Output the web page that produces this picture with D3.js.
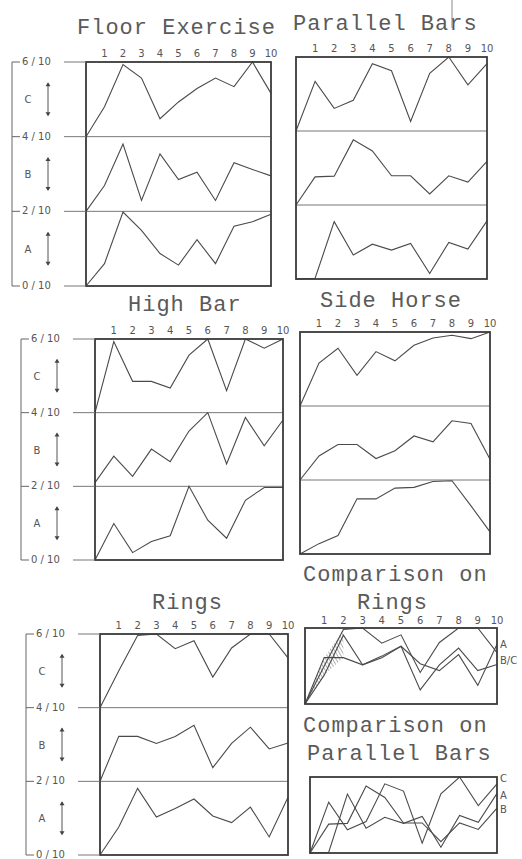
<!DOCTYPE html>
<html>
<head>
<meta charset="utf-8">
<script src="https://cdn.jsdelivr.net/npm/d3@7"></script>
<style>
  body { margin: 0; background: #fff; }
  svg { display: block; }
  .title { font-family: "Liberation Mono", "DejaVu Sans Mono", monospace; font-size: 22px; letter-spacing: 1px; fill: #5a5a5a; }
  .tick { font-family: "DejaVu Sans", sans-serif; font-size: 10px; fill: #555; }
  .small { font-family: "DejaVu Sans", sans-serif; font-size: 10px; fill: #555; }
</style>
</head>
<body>
<svg id="chart" width="522" height="859"></svg>
<script>
// rounds 1..10, point 0 is the starting point on the left edge
var rounds = [1, 2, 3, 4, 5, 6, 7, 8, 9, 10];
var scaleLabels = ["6 / 10", "4 / 10", "2 / 10", "0 / 10"];
var bandNames = ["C", "B", "A"];

// values in tenths inside each band (0..2)
var floorC = [0, 0.8, 1.93, 1.57, 0.48, 0.93, 1.29, 1.57, 1.34, 2.0, 1.16];
var floorB = [0, 0.69, 1.8, 0.29, 1.54, 0.85, 1.05, 0.29, 1.3, 1.12, 0.95];
var floorA = [0, 0.6, 1.98, 1.49, 0.87, 0.56, 1.24, 0.6, 1.6, 1.72, 1.92];

var parC = [0, 1.34, 0.61, 0.83, 1.82, 1.63, 0.26, 1.56, 2.0, 1.25, 1.82];
var parB = [0, 0.76, 0.78, 1.76, 1.46, 0.79, 0.79, 0.3, 0.79, 0.62, 1.18];
var parA = [0, 0.02, 1.55, 0.65, 0.94, 0.78, 0.96, 0.15, 0.99, 0.81, 1.57];

var highC = [0, 1.93, 0.85, 0.85, 0.67, 1.56, 2.0, 0.6, 2.0, 1.75, 2.0];
var highB = [0.1, 0.82, 0.27, 1.01, 0.67, 1.5, 2.0, 0.61, 1.87, 1.1, 1.8];
var highA = [0, 0.99, 0.2, 0.5, 0.66, 2.0, 1.08, 0.59, 1.62, 1.97, 1.97];

var horseC = [0, 1.16, 1.56, 0.83, 1.47, 1.22, 1.64, 1.84, 1.91, 1.82, 2.0];
var horseB = [0, 0.65, 0.96, 0.96, 0.58, 0.79, 1.19, 1.03, 1.6, 1.53, 0.56];
var horseA = [0, 0.28, 0.5, 1.49, 1.49, 1.78, 1.8, 1.96, 1.98, 1.3, 0.6];

var ringsC = [0, 1.0, 1.96, 2.0, 1.6, 1.82, 0.83, 1.62, 2.0, 2.0, 1.35];
var ringsB = [0, 1.22, 1.22, 1.03, 1.22, 1.52, 0.37, 1.03, 1.47, 0.88, 1.04];
var ringsA = [0, 0.76, 1.81, 1.03, 1.26, 1.52, 1.06, 0.88, 1.3, 0.49, 1.57];

var svg = d3.select("#chart");
var ink = "#3a3a3a";

var defs = svg.append("defs");
defs.append("pattern")
  .attr("id", "hatch")
  .attr("width", 3).attr("height", 3)
  .attr("patternUnits", "userSpaceOnUse")
  .attr("patternTransform", "rotate(-30)")
  .append("line")
  .attr("x1", 0).attr("y1", 0).attr("x2", 0).attr("y2", 3)
  .attr("stroke", "#666").attr("stroke-width", 1);

var titles = [
  { text: "Floor Exercise", x: 77, y: 34 },
  { text: "Parallel Bars", x: 293, y: 30 },
  { text: "High Bar", x: 128, y: 311 },
  { text: "Side Horse", x: 320, y: 307 },
  { text: "Rings", x: 152, y: 609 },
  { text: "Comparison on", x: 303, y: 581 },
  { text: "Rings", x: 357, y: 609 },
  { text: "Comparison on", x: 303, y: 732 },
  { text: "Parallel Bars", x: 307, y: 760 }
];

svg.selectAll("text.title")
  .data(titles)
  .enter().append("text")
  .attr("class", "title")
  .attr("x", d => d.x)
  .attr("y", d => d.y)
  .text(d => d.text);

var panels = [
  { series: [floorC, floorB, floorA], left: 86, right: 271, top: 62, bottom: 286, axis: true },
  { series: [parC, parB, parA], left: 296, right: 487, top: 57, bottom: 279, axis: false },
  { series: [highC, highB, highA], left: 95, right: 283, top: 339, bottom: 560, axis: true },
  { series: [horseC, horseB, horseA], left: 300, right: 490, top: 332, bottom: 554, axis: false },
  { series: [ringsC, ringsB, ringsA], left: 100, right: 288, top: 634, bottom: 855, axis: true }
];

panels.forEach(function (p) {
  var g = svg.append("g");
  var x = d3.scaleLinear().domain([0, 10]).range([p.left, p.right]);
  var bandH = (p.bottom - p.top) / 3;

  // round numbers on top
  g.selectAll("text.tick")
    .data(rounds)
    .enter().append("text")
    .attr("class", "tick")
    .attr("x", d => x(d))
    .attr("y", p.top - 5)
    .attr("text-anchor", "middle")
    .text(d => d);

  // band dividers
  [1, 2].forEach(function (k) {
    g.append("line")
      .attr("x1", p.left).attr("x2", p.right)
      .attr("y1", p.top + k * bandH).attr("y2", p.top + k * bandH)
      .attr("stroke", "#777").attr("stroke-width", 1);
  });

  p.series.forEach(function (vals, i) {
    var y = d3.scaleLinear().domain([0, 2])
      .range([p.top + (i + 1) * bandH, p.top + i * bandH]);
    var line = d3.line()
      .x((d, j) => x(j))
      .y(d => y(d));
    g.append("path")
      .datum(vals)
      .attr("d", line)
      .attr("fill", "none")
      .attr("stroke", "#4a4a4a")
      .attr("stroke-width", 1.1);
  });

  g.append("rect")
    .attr("x", p.left).attr("y", p.top)
    .attr("width", p.right - p.left).attr("height", p.bottom - p.top)
    .attr("fill", "none").attr("stroke", ink).attr("stroke-width", 1.8);

  if (p.axis) {
    var bx = p.left - 74;
    g.append("line")
      .attr("x1", bx).attr("x2", bx)
      .attr("y1", p.top).attr("y2", p.bottom)
      .attr("stroke", "#666").attr("stroke-width", 1);
    scaleLabels.forEach(function (lab, k) {
      var yy = p.top + k * bandH;
      g.append("line")
        .attr("x1", bx).attr("x2", bx + 8)
        .attr("y1", yy).attr("y2", yy)
        .attr("stroke", "#666");
      g.append("line")
        .attr("x1", bx + 52).attr("x2", p.left)
        .attr("y1", yy).attr("y2", yy)
        .attr("stroke", "#777");
      g.append("text")
        .attr("class", "small")
        .attr("x", bx + 10).attr("y", yy + 3)
        .attr("font-size", 11)
        .text(lab);
    });
    bandNames.forEach(function (nm, k) {
      var mid = p.top + (k + 0.5) * bandH;
      g.append("text")
        .attr("class", "small")
        .attr("x", p.left - 58).attr("y", mid + 4)
        .attr("text-anchor", "middle")
        .attr("font-size", 11)
        .text(nm);
      var ax = p.left - 38, y1 = mid - 16, y2 = mid + 16;
      g.append("line")
        .attr("x1", ax).attr("x2", ax).attr("y1", y1).attr("y2", y2)
        .attr("stroke", "#555");
      g.append("path")
        .attr("d", "M" + (ax - 2.5) + "," + (y1 + 3) + "L" + ax + "," + (y1 - 1) + "L" + (ax + 2.5) + "," + (y1 + 3) + "Z")
        .attr("fill", "#444");
      g.append("path")
        .attr("d", "M" + (ax - 2.5) + "," + (y2 - 3) + "L" + ax + "," + (y2 + 1) + "L" + (ax + 2.5) + "," + (y2 - 3) + "Z")
        .attr("fill", "#444");
    });
  }
});

// comparison charts: the three bands laid over each other
var comps = [
  { series: [ringsA, ringsB, ringsC], labels: [{ t: "A", v: 1.57 }, { t: "B/C", v: 1.16 }],
    left: 305, right: 497, top: 628, bottom: 704, ticks: true, hatch: true },
  { series: [parC, parA, parB], labels: [{ t: "C", v: 1.97 }, { t: "A", v: 1.52 }, { t: "B", v: 1.17 }],
    left: 310, right: 497, top: 777, bottom: 853, ticks: false, hatch: false }
];

comps.forEach(function (c) {
  var g = svg.append("g");
  var x = d3.scaleLinear().domain([0, 10]).range([c.left, c.right]);
  var y = d3.scaleLinear().domain([0, 2]).range([c.bottom, c.top]);

  if (c.ticks) {
    g.selectAll("text.tick")
      .data(rounds)
      .enter().append("text")
      .attr("class", "tick")
      .attr("x", d => x(d))
      .attr("y", c.top - 4)
      .attr("text-anchor", "middle")
      .text(d => d);
  }

  if (c.hatch) {
    var idx = [0, 1, 2];
    var area = d3.area()
      .x(d => x(d))
      .y0(d => y(d3.min(c.series, s => s[d])))
      .y1(d => y(d3.max(c.series, s => s[d])));
    g.append("path")
      .datum(idx)
      .attr("d", area)
      .attr("fill", "url(#hatch)");
  }

  var line = d3.line().x((d, j) => x(j)).y(d => y(d));
  c.series.forEach(function (vals) {
    g.append("path")
      .datum(vals)
      .attr("d", line)
      .attr("fill", "none")
      .attr("stroke", "#4a4a4a")
      .attr("stroke-width", 1.1);
  });

  g.append("rect")
    .attr("x", c.left).attr("y", c.top)
    .attr("width", c.right - c.left).attr("height", c.bottom - c.top)
    .attr("fill", "none").attr("stroke", ink).attr("stroke-width", 1.8);

  g.selectAll("text.lab")
    .data(c.labels)
    .enter().append("text")
    .attr("class", "small")
    .attr("x", c.right + 3)
    .attr("y", d => y(d.v) + 4)
    .attr("font-size", 11)
    .text(d => d.t);
});

// stray pencil mark on the scan
svg.append("line")
  .attr("x1", 452).attr("x2", 452).attr("y1", 0).attr("y2", 28)
  .attr("stroke", "#888").attr("stroke-width", 1);
</script>
</body>
</html>
